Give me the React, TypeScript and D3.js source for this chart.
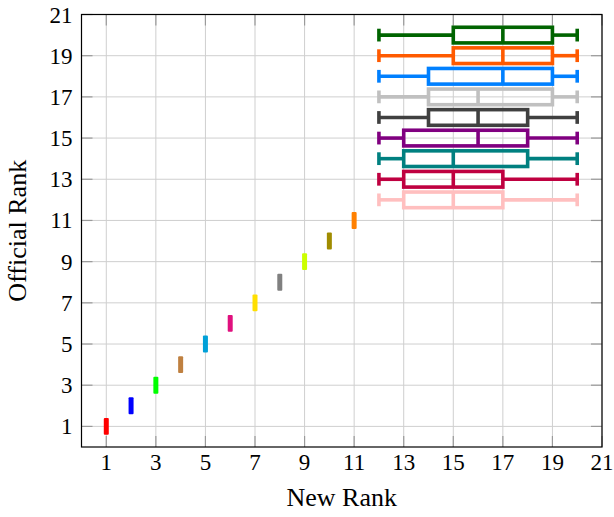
import React from "react";
import * as d3 from "d3";

// single-rank entries (new rank == official rank)
const pointRanks = [1, 2, 3, 4, 5, 6, 7, 8, 9, 10, 11];
const pointColors = [
  "#ff0000", "#0000ff", "#00ff00", "#bf8040", "#00a0d8", "#e0107e",
  "#ffdf00", "#808080", "#ccff00", "#a08c00", "#ff8000",
];

// box plots for official ranks 12..20
const boxRanks = [20, 19, 18, 17, 16, 15, 14, 13, 12];
const boxLow = [12, 12, 12, 12, 12, 12, 12, 12, 12];
const boxQ1 = [15, 15, 14, 14, 14, 13, 13, 13, 13];
const boxMedian = [17, 17, 17, 16, 16, 16, 15, 15, 15];
const boxQ3 = [19, 19, 19, 19, 18, 18, 18, 17, 17];
const boxHigh = [20, 20, 20, 20, 20, 20, 20, 20, 20];
const boxColors = [
  "#006400", "#ff5a00", "#0080ff", "#c0c0c0", "#404040",
  "#800080", "#008080", "#bf0040", "#ffbfbf",
];

const tickValues = [1, 3, 5, 7, 9, 11, 13, 15, 17, 19, 21];

const W = 614;
const H = 517;
const margin = { top: 14.5, right: 12, bottom: 70, left: 81.5 };
const font = "'Liberation Serif', 'Times New Roman', serif";

export default function App() {
  const x = d3.scaleLinear().domain([0, 21]).range([margin.left, W - margin.right]);
  const y = d3.scaleLinear().domain([0, 21]).range([H - margin.bottom, margin.top]);
  const unitY = y(0) - y(1);
  const boxHalf = 0.38 * unitY;
  const capHalf = 0.31 * unitY;
  const sw = 3.6;
  const tickLen = 11;

  return (
    <svg
      width={W}
      height={H}
      style={{ position: "absolute", left: 0, top: 0, background: "#fff" }}
    >
      {/* grid */}
      <g stroke="#cfcfcf" strokeWidth={1}>
        {tickValues.map((t) => (
          <line key={"gx" + t} x1={x(t)} x2={x(t)} y1={y(0)} y2={y(21)} />
        ))}
        {tickValues.map((t) => (
          <line key={"gy" + t} x1={x(0)} x2={x(21)} y1={y(t)} y2={y(t)} />
        ))}
      </g>
      {/* tick marks, all four sides */}
      <g stroke="#9a9a9a" strokeWidth={1.2}>
        {tickValues.map((t) => (
          <g key={"t" + t}>
            <line x1={x(t)} x2={x(t)} y1={y(0)} y2={y(0) - tickLen} />
            <line x1={x(t)} x2={x(t)} y1={y(21)} y2={y(21) + tickLen} />
            <line x1={x(0)} x2={x(0) + tickLen} y1={y(t)} y2={y(t)} />
            <line x1={x(21)} x2={x(21) - tickLen} y1={y(t)} y2={y(t)} />
          </g>
        ))}
      </g>

      {/* single rank marks */}
      {pointRanks.map((r, i) => (
        <rect
          key={"p" + r}
          x={x(r) - 2.5}
          width={5}
          y={y(r + 0.41)}
          height={y(r - 0.41) - y(r + 0.41)}
          rx={1}
          fill={pointColors[i]}
        />
      ))}

      {/* box plots */}
      {boxRanks.map((r, i) => {
        const cy = y(r);
        const c = boxColors[i];
        return (
          <g key={"b" + r} stroke={c} strokeWidth={sw} fill="none">
            <line x1={x(boxLow[i])} x2={x(boxQ1[i])} y1={cy} y2={cy} />
            <line x1={x(boxQ3[i])} x2={x(boxHigh[i])} y1={cy} y2={cy} />
            <line x1={x(boxLow[i])} x2={x(boxLow[i])} y1={cy - capHalf} y2={cy + capHalf} />
            <line x1={x(boxHigh[i])} x2={x(boxHigh[i])} y1={cy - capHalf} y2={cy + capHalf} />
            <rect
              x={x(boxQ1[i])}
              width={x(boxQ3[i]) - x(boxQ1[i])}
              y={cy - boxHalf}
              height={2 * boxHalf}
            />
            <line x1={x(boxMedian[i])} x2={x(boxMedian[i])} y1={cy - boxHalf} y2={cy + boxHalf} />
          </g>
        );
      })}

      {/* frame */}
      <rect
        x={x(0)}
        y={y(21)}
        width={x(21) - x(0)}
        height={y(0) - y(21)}
        fill="none"
        stroke="#000"
        strokeWidth={1.2}
      />

      {/* tick labels */}
      <g fontFamily={font} fontSize={23} fill="#000">
        {tickValues.map((t) => (
          <text key={"lx" + t} x={x(t)} y={y(0) + 23} textAnchor="middle">
            {t}
          </text>
        ))}
        {tickValues.map((t) => (
          <text key={"ly" + t} x={x(0) - 9} y={y(t) + 8} textAnchor="end">
            {t}
          </text>
        ))}
      </g>

      {/* axis labels */}
      <text
        x={(x(0) + x(21)) / 2}
        y={506}
        textAnchor="middle"
        fontFamily={font}
        fontSize={26}
      >
        New Rank
      </text>
      <text
        transform={`translate(26,${(y(0) + y(21)) / 2}) rotate(-90)`}
        textAnchor="middle"
        fontFamily={font}
        fontSize={26}
      >
        Official Rank
      </text>
    </svg>
  );
}
